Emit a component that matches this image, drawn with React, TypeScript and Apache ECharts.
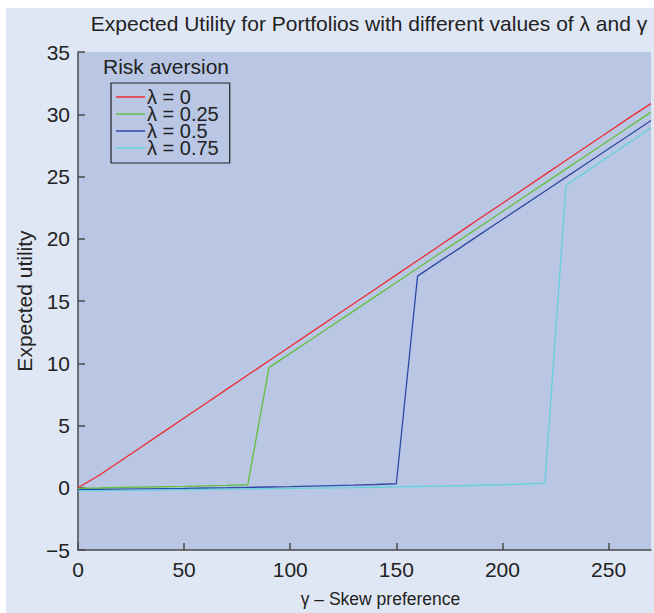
import React, { useEffect, useRef } from "react";
import * as echarts from "echarts";

const gammaValues = [0, 10, 20, 30, 40, 50, 60, 70, 80, 90, 100, 110, 120, 130, 140, 150, 160, 170, 180, 190, 200, 210, 220, 230, 240, 250, 260, 270];

const lambda0 = [0, 1.0, 2.15, 3.3, 4.45, 5.6, 6.75, 7.9, 9.05, 10.2, 11.35, 12.5, 13.65, 14.8, 15.95, 17.1, 18.25, 19.4, 20.55, 21.7, 22.85, 24.0, 25.15, 26.3, 27.45, 28.6, 29.75, 30.85];
const lambda025 = [-0.05, -0.02, 0.02, 0.05, 0.08, 0.11, 0.15, 0.19, 0.24, 9.65, 10.79, 11.93, 13.07, 14.21, 15.35, 16.49, 17.63, 18.77, 19.91, 21.05, 22.19, 23.33, 24.47, 25.61, 26.75, 27.89, 29.03, 30.17];
const lambda05 = [-0.15, -0.13, -0.11, -0.09, -0.07, -0.05, -0.02, 0.0, 0.03, 0.06, 0.09, 0.13, 0.17, 0.21, 0.26, 0.32, 17.0, 18.14, 19.27, 20.41, 21.55, 22.68, 23.82, 24.95, 26.09, 27.23, 28.36, 29.5];
const lambda075 = [-0.25, -0.23, -0.21, -0.19, -0.17, -0.15, -0.13, -0.11, -0.09, -0.07, -0.05, -0.03, -0.01, 0.01, 0.04, 0.07, 0.1, 0.13, 0.16, 0.2, 0.24, 0.3, 0.37, 24.3, 25.45, 26.6, 27.75, 28.9];

const seriesNames = ["λ = 0", "λ = 0.25", "λ = 0.5", "λ = 0.75"];
const seriesColors = ["#ee2b2f", "#62bf3f", "#2f4aa6", "#64d0dc"];
const seriesValues = [lambda0, lambda025, lambda05, lambda075];

const FONT = "'Liberation Sans', Arial, Helvetica, sans-serif";

export default function App() {
  const ref = useRef<HTMLDivElement>(null);
  useEffect(() => {
    if (!ref.current) return;
    const chart = echarts.init(ref.current, null, { renderer: "svg" });
    chart.setOption({
      animation: false,
      backgroundColor: "#ffffff",
      title: {
        text: "Expected Utility for Portfolios with different values of λ and γ",
        left: 364,
        textAlign: "center",
        top: 8,
        textStyle: { fontFamily: FONT, fontSize: 21, fontWeight: "normal", color: "#222" },
      },
      graphic: [
        {
          type: "rect",
          z: -10,
          shape: { x: 6, y: 8, width: 648, height: 605 },
          style: { fill: "#e0e7f4" },
          silent: true,
        },
        {
          type: "text",
          left: 103,
          top: 56,
          z: 10,
          style: { text: "Risk aversion", fontFamily: FONT, fontSize: 21, fill: "#222" },
        },
      ],
      legend: {
        orient: "vertical",
        left: 111,
        top: 83,
        padding: [4, 11, 5, 5],
        itemGap: -3,
        itemWidth: 29,
        itemHeight: 1.5,
        icon: "rect",
        borderColor: "#222",
        borderWidth: 1.2,
        backgroundColor: "transparent",
        data: seriesNames,
        textStyle: { fontFamily: FONT, fontSize: 20, color: "#222", padding: [0, 0, 0, -3] },
      },
      grid: {
        left: 78,
        top: 52,
        width: 573,
        height: 500,
        show: true,
        backgroundColor: "#b9c7e4",
        borderWidth: 0,
      },
      xAxis: {
        type: "value",
        min: 0,
        max: 270,
        interval: 50,
        name: "γ – Skew preference",
        nameLocation: "middle",
        nameGap: 40,
        nameTextStyle: { fontFamily: FONT, fontSize: 17.5, color: "#222", padding: [0, 0, 0, 32] },
        axisLine: { show: true, onZero: false, lineStyle: { color: "#4a4a4a", width: 1.5 } },
        axisTick: { show: true, inside: true, length: 7, lineStyle: { color: "#4a4a4a", width: 1.5 } },
        axisLabel: { margin: 9, showMaxLabel: false, fontFamily: FONT, fontSize: 21, color: "#222" },
        splitLine: { show: false },
      },
      yAxis: {
        type: "value",
        min: -5,
        max: 35,
        interval: 5,
        name: "Expected utility",
        nameLocation: "middle",
        nameGap: 42,
        nameTextStyle: { fontFamily: FONT, fontSize: 21, color: "#222" },
        axisLine: { show: true, onZero: false, lineStyle: { color: "#4a4a4a", width: 1.5 } },
        axisTick: { show: true, inside: true, length: 7, lineStyle: { color: "#4a4a4a", width: 1.5 } },
        axisLabel: {
          margin: 8,
          fontFamily: FONT,
          fontSize: 21,
          color: "#222",
          formatter: (v: number) => (v < 0 ? "\u2212" + Math.abs(v) : String(v)),
        },
        splitLine: { show: false },
      },
      series: seriesValues.map((vals, i) => ({
        name: seriesNames[i],
        type: "line",
        symbol: "none",
        color: seriesColors[i],
        lineStyle: { color: seriesColors[i], width: 1.3 },
        data: gammaValues.map((g, j) => [g, vals[j]]),
      })),
    });
    return () => chart.dispose();
  }, []);
  return (
    <div
      ref={ref}
      style={{ position: "fixed", left: 0, top: 0, width: 654, height: 613 }}
    />
  );
}
